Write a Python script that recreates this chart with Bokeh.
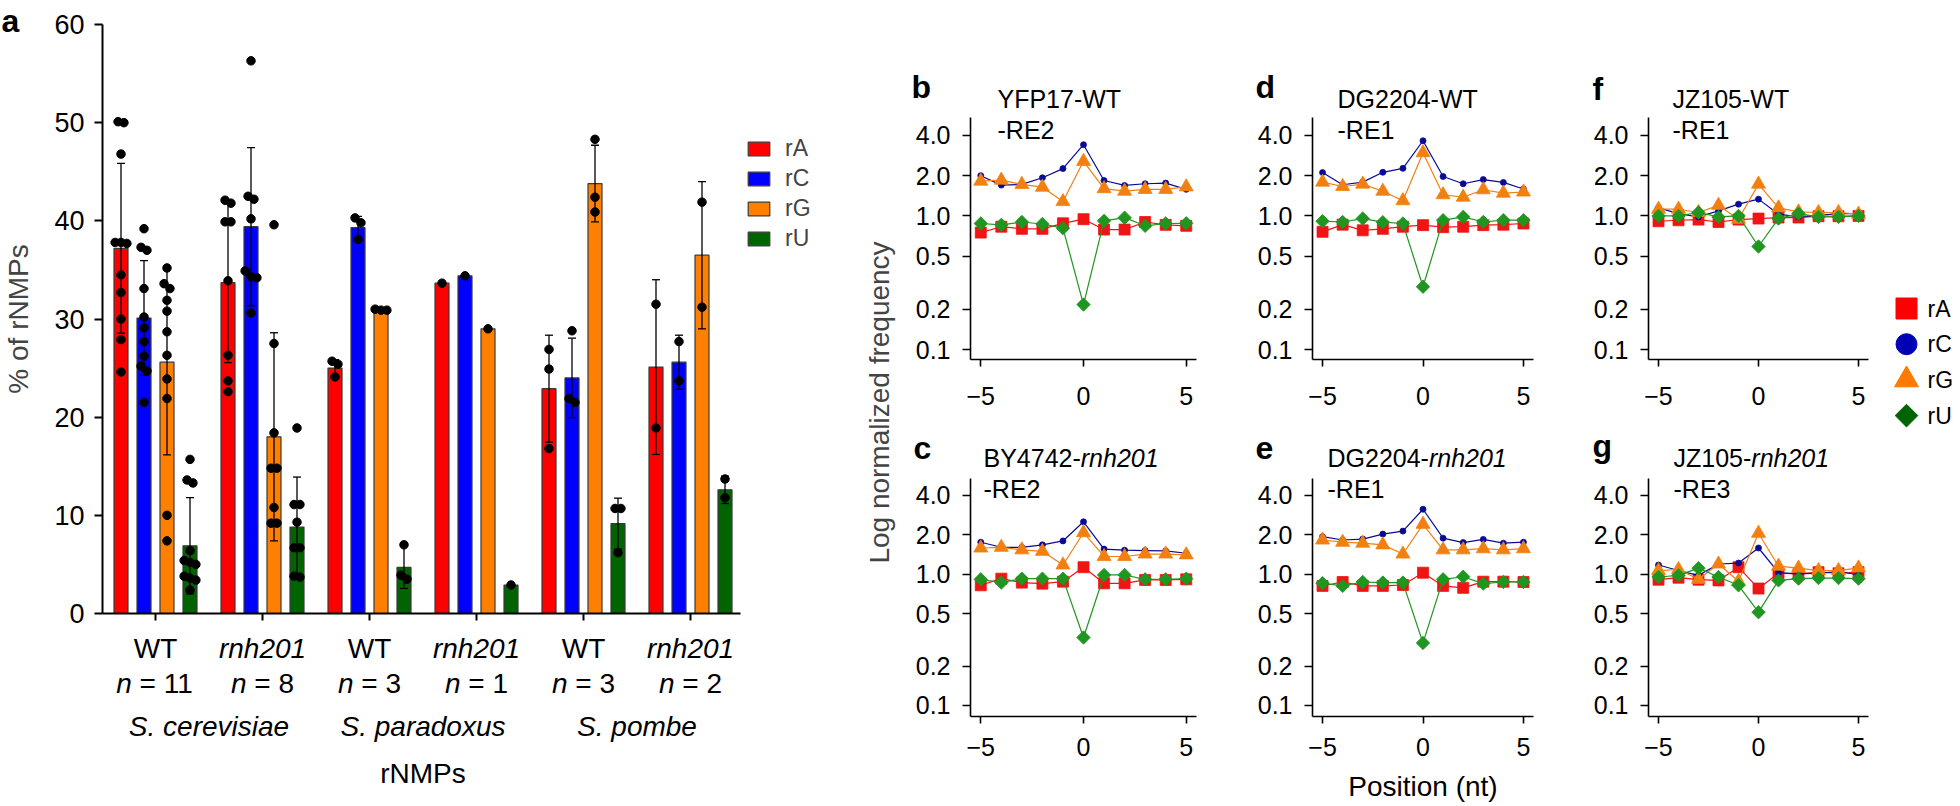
import math
from bokeh.plotting import figure
from bokeh.models import (Range1d, FixedTicker, Whisker, TeeHead, ColumnDataSource,
                          Label, Legend, LegendItem, PrintfTickFormatter)
from bokeh.layouts import row, column
from bokeh.embed import file_html
from bokeh.resources import INLINE
from bokeh.core.properties import value

FONT = "Liberation Sans"

# ---------------- Panel a data ----------------
nucleotides = ["rA", "rC", "rG", "rU"]
strains = ["WT", "rnh201", "WT", "rnh201", "WT", "rnh201"]
n_values = [11, 8, 3, 1, 3, 2]
species = ["S. cerevisiae", "S. paradoxus", "S. pombe"]

mean_rA = [37.2, 33.7, 25.0, 33.65, 22.9, 25.1]
mean_rC = [30.1, 39.4, 39.3, 34.4, 24.0, 25.6]
mean_rG = [25.6, 18.0, 30.9, 29.0, 43.8, 36.5]
mean_rU = [6.9, 8.8, 4.7, 2.9, 9.15, 12.6]

sd_rA = [8.65, 8.15, 0.85, 0.0, 5.45, 8.9]
sd_rC = [5.85, 8.05, 1.15, 0.0, 4.05, 2.75]
sd_rG = [9.45, 10.6, 0.1, 0.0, 3.9, 7.5]
sd_rU = [4.9, 5.1, 2.15, 0.0, 2.6, 1.4]

pts_rA = [[50.1, 50.0, 46.8, 37.8, 37.8, 37.7, 34.5, 32.7, 30.0, 27.9, 24.6],
          [42.1, 41.8, 39.9, 39.9, 33.9, 26.3, 23.7, 22.6],
          [25.7, 25.4, 24.1], [33.65], [26.9, 24.9, 16.8], [31.5, 18.9]]
pts_rC = [[39.2, 37.3, 37.0, 33.1, 30.2, 29.1, 27.7, 26.2, 25.2, 24.7, 21.5],
          [56.3, 42.5, 42.2, 40.2, 34.9, 34.3, 34.2, 30.6],
          [40.3, 39.8, 38.1], [34.4], [28.8, 21.9, 21.5], [27.7, 23.7]]
pts_rG = [[35.2, 33.6, 33.1, 31.9, 30.8, 28.7, 26.3, 23.9, 21.9, 10.0, 7.4],
          [39.6, 27.5, 18.4, 14.8, 14.8, 10.8, 9.2, 9.2],
          [31.0, 30.9, 30.9], [29.0], [48.3, 42.4, 40.9], [41.9, 31.2]]
pts_rU = [[15.7, 13.6, 13.3, 6.4, 5.4, 5.2, 5.0, 3.8, 3.6, 3.4, 2.4],
          [18.9, 11.1, 11.1, 9.3, 6.7, 6.7, 3.7, 3.8],
          [7.0, 3.9, 3.5], [2.9], [10.7, 10.7, 6.2], [13.7, 11.8]]

y_ticks_a = [0, 10, 20, 30, 40, 50, 60]

# ---------------- Panels b-g data ----------------
positions = [-5, -4, -3, -2, -1, 0, 1, 2, 3, 4, 5]
log_ticks = [0.1, 0.2, 0.5, 1.0, 2.0, 4.0]
pos_ticks = [-5, 0, 5]

b_rA = [0.75, 0.83, 0.80, 0.80, 0.88, 0.945, 0.79, 0.79, 0.90, 0.857, 0.843]
b_rC = [2.00, 1.70, 1.72, 1.93, 2.26, 3.41, 1.84, 1.69, 1.74, 1.76, 1.58]
b_rG = [1.82, 1.85, 1.72, 1.64, 1.28, 2.56, 1.60, 1.53, 1.58, 1.58, 1.65]
b_rU = [0.877, 0.857, 0.90, 0.87, 0.81, 0.217, 0.918, 0.97, 0.843, 0.877, 0.88]

c_rA = [0.826, 0.928, 0.866, 0.85, 0.88, 1.135, 0.855, 0.855, 0.907, 0.907, 0.917]
c_rC = [1.76, 1.61, 1.61, 1.68, 1.80, 2.52, 1.56, 1.53, 1.52, 1.51, 1.45]
c_rG = [1.59, 1.61, 1.54, 1.50, 1.18, 2.08, 1.37, 1.37, 1.43, 1.43, 1.41]
c_rU = [0.917, 0.866, 0.928, 0.928, 0.928, 0.33, 0.99, 0.99, 0.917, 0.917, 0.928]

d_rA = [0.76, 0.86, 0.78, 0.80, 0.83, 0.853, 0.824, 0.83, 0.853, 0.86, 0.877]
d_rC = [2.11, 1.71, 1.79, 2.12, 2.27, 3.65, 1.97, 1.74, 1.87, 1.78, 1.59]
d_rG = [1.79, 1.66, 1.73, 1.53, 1.30, 2.97, 1.44, 1.38, 1.57, 1.48, 1.51]
d_rU = [0.913, 0.90, 0.955, 0.898, 0.877, 0.295, 0.929, 0.983, 0.90, 0.929, 0.929]

e_rA = [0.817, 0.875, 0.817, 0.817, 0.83, 1.03, 0.817, 0.79, 0.88, 0.88, 0.875]
e_rC = [1.94, 1.83, 1.86, 2.03, 2.14, 3.14, 1.89, 1.75, 1.85, 1.73, 1.76]
e_rG = [1.83, 1.76, 1.73, 1.68, 1.43, 2.41, 1.54, 1.54, 1.57, 1.54, 1.57]
e_rU = [0.856, 0.817, 0.875, 0.866, 0.866, 0.30, 0.917, 0.96, 0.85, 0.875, 0.875]

f_rA = [0.912, 0.928, 0.938, 0.90, 0.938, 0.955, 0.972, 0.972, 0.994, 0.994, 1.0]
f_rC = [1.149, 1.041, 0.983, 1.09, 1.224, 1.335, 1.03, 0.983, 1.01, 1.04, 1.04]
f_rG = [1.122, 1.122, 1.06, 1.20, 0.944, 1.73, 1.149, 1.072, 1.06, 1.06, 1.03]
f_rU = [1.0, 1.0, 1.06, 0.983, 1.0, 0.59, 0.955, 1.04, 0.983, 0.983, 1.0]

g_rA = [0.912, 0.944, 0.912, 0.90, 1.135, 0.78, 1.02, 1.01, 1.04, 1.02, 1.04]
g_rC = [1.18, 1.07, 0.983, 1.20, 1.22, 1.59, 1.03, 1.01, 1.02, 1.05, 0.994]
g_rG = [1.07, 1.09, 0.917, 1.20, 0.886, 2.06, 1.155, 1.116, 1.07, 1.07, 1.12]
g_rU = [0.955, 0.983, 1.116, 0.955, 0.826, 0.515, 0.90, 0.928, 0.938, 0.938, 0.928]

# ---------------- styles ----------------
BAR_COL = {"rA": "#ff0000", "rC": "#0000ff", "rG": "#ff8000", "rU": "#006400"}
LINE_COL = {"rA": "#f01414", "rC": "#0a0a96", "rG": "#f28010", "rU": "#1f961f"}
KEY_COL = {"rA": "#ff0000", "rC": "#0000b4", "rG": "#ff7a00", "rU": "#006400"}
MARK = {"rA": dict(marker="square", size=11, angle=0.0),
        "rC": dict(marker="circle", size=6, angle=0.0),
        "rG": dict(marker="triangle", size=14, angle=0.0),
        "rU": dict(marker="square", size=9.5, angle=math.pi / 4)}
KEY_MARK = {"rA": dict(marker="square", size=21, angle=0.0),
            "rC": dict(marker="circle", size=21, angle=0.0),
            "rG": dict(marker="triangle", size=24, angle=0.0),
            "rU": dict(marker="square", size=16, angle=math.pi / 4)}

ADV = {'B': 667, 'Y': 667, 'D': 722, 'G': 778, 'J': 500, 'Z': 611, '-': 333,
       ' ': 278, '=': 584, 'n': 556}


def tw(s, fs):
    return sum(ADV.get(ch, 556) for ch in s) * fs / 1000.0


def base_fig(**kw):
    p = figure(toolbar_location=None, output_backend="svg", **kw)
    p.outline_line_color = None
    p.grid.visible = False
    return p


def lab(**kw):
    kw.setdefault("text_baseline", "alphabetic")
    kw.setdefault("text_font", FONT)
    kw.setdefault("text_color", "black")
    return Label(**kw)


PAGE_H = 804
ROW_SPLIT = 429

# ================= Panel a (frame covers the whole figure) =================
A_FIG_X, A_FIG_Y, A_W, A_H = 0, 0, 860, PAGE_H
A_FL, A_FR, A_FT, A_FB = 102, 740, 24, 613     # page position of the axes
A_PXU = 107.0                                  # px per group
A_X0 = -(155 - A_FL) / A_PXU
A_X1 = A_X0 + (A_FR - A_FL) / A_PXU
A_PYU = (A_FB - A_FT) / 60.0
BAR_PITCH = 23 / A_PXU
BAR_W = 14 / A_PXU


def ax_x(px):
    return A_X0 + (px - A_FL) / A_PXU


def ax_y(py):
    return (A_FB - py) / A_PYU


pa = base_fig(width=A_W, height=A_H,
              x_range=Range1d(ax_x(A_FIG_X), ax_x(A_FIG_X + A_W)),
              y_range=Range1d(ax_y(A_FIG_Y + A_H), ax_y(A_FIG_Y)),
              min_border=0)

means = {"rA": mean_rA, "rC": mean_rC, "rG": mean_rG, "rU": mean_rU}
sds = {"rA": sd_rA, "rC": sd_rC, "rG": sd_rG, "rU": sd_rU}
pts = {"rA": pts_rA, "rC": pts_rC, "rG": pts_rG, "rU": pts_rU}
groups = list(range(len(strains)))


def swarm(vals, thr=0.9, step=0.055):
    order = sorted(range(len(vals)), key=lambda i: -vals[i])
    offs = [0.0] * len(vals)
    clusters = []
    for i in order:
        if clusters and abs(vals[clusters[-1][-1]] - vals[i]) < thr:
            clusters[-1].append(i)
        else:
            clusters.append([i])
    for cl in clusters:
        m = len(cl)
        for j, i in enumerate(cl):
            offs[i] = (j - (m - 1) / 2.0) * step
    return offs


bar_renderers = {}
for k, nuc in enumerate(nucleotides):
    xs = [g + (k - 1.5) * BAR_PITCH for g in groups]
    src = ColumnDataSource(dict(x=xs, top=means[nuc]))
    bar_renderers[nuc] = pa.vbar(x="x", top="top", bottom=0, width=BAR_W, source=src,
                                 fill_color=BAR_COL[nuc], line_color="#3a3a3a", line_width=1.2)
    wx, wu, wl = [], [], []
    for g in groups:
        if n_values[g] > 1:
            wx.append(xs[g])
            wu.append(means[nuc][g] + sds[nuc][g])
            wl.append(means[nuc][g] - sds[nuc][g])
    wsrc = ColumnDataSource(dict(base=wx, upper=wu, lower=wl))
    wh = Whisker(source=wsrc, base="base", upper="upper", lower="lower", dimension="height",
                 line_color="black", line_width=1.3,
                 upper_head=TeeHead(size=8, line_width=1.3, line_color="black"),
                 lower_head=TeeHead(size=8, line_width=1.3, line_color="black"))
    wh.level = "annotation"
    pa.add_layout(wh)
    dx, dy = [], []
    for g in groups:
        offs = swarm(pts[nuc][g])
        for v, o in zip(pts[nuc][g], offs):
            dx.append(xs[g] + o)
            dy.append(v)
    pa.scatter(x=dx, y=dy, size=8.5, color="black", level="overlay")

pa.yaxis.fixed_location = A_X0
pa.yaxis.bounds = (0, 60)
pa.yaxis.ticker = FixedTicker(ticks=y_ticks_a)
pa.yaxis.major_tick_out = 8
pa.yaxis.major_label_standoff = 10
pa.yaxis.major_label_text_font_size = "27px"
pa.yaxis.axis_label = "% of rNMPs"
pa.yaxis.axis_label_standoff = 17
pa.yaxis.axis_label_text_font_size = "28px"
pa.yaxis.axis_label_text_font_style = "normal"
pa.yaxis.axis_label_text_font = FONT
pa.xaxis.fixed_location = 0
pa.xaxis.bounds = (A_X0, A_X1)
pa.xaxis.ticker = FixedTicker(ticks=groups)
pa.xaxis.major_label_overrides = {g: "" for g in groups}
pa.xaxis.major_tick_out = 7
for ax in (pa.xaxis, pa.yaxis):
    ax.major_tick_in = 0
    ax.minor_tick_line_color = None
    ax.axis_line_width = 2
    ax.major_tick_line_width = 2
    ax.axis_line_color = "black"
    ax.major_tick_line_color = "black"
    ax.major_label_text_font = FONT
    ax.major_label_text_color = "black"

FS_A = 28
for g in groups:
    pa.add_layout(lab(x=g, y=ax_y(648), text=strains[g], text_align="center",
                      text_font_size=f"{FS_A}px",
                      text_font_style="italic" if strains[g] != "WT" else "normal"))
    rest = f"= {n_values[g]}"
    wtot = tw("n " + rest, FS_A)
    pa.add_layout(lab(x=g, y=ax_y(683), x_offset=-wtot / 2, text="n", text_align="left",
                      text_font_size=f"{FS_A}px", text_font_style="italic"))
    pa.add_layout(lab(x=g, y=ax_y(683), x_offset=-wtot / 2 + tw("n ", FS_A), text=rest,
                      text_align="left", text_font_size=f"{FS_A}px"))
for i, sp in enumerate(species):
    pa.add_layout(lab(x=(groups[2 * i] + groups[2 * i + 1]) / 2, y=ax_y(726), text=sp,
                      text_align="center", text_font_size=f"{FS_A}px", text_font_style="italic"))
pa.add_layout(lab(x=sum(groups) / len(groups), y=ax_y(773), text="rNMPs", text_align="center",
                  text_font_size=f"{FS_A}px"))
pa.add_layout(lab(x=ax_x(1), y=ax_y(20), text="a", text_align="left", text_font_size="32px",
                  text_font_style="bold"))

legA = Legend(items=[LegendItem(label=nuc, renderers=[bar_renderers[nuc]]) for nuc in nucleotides],
              location=(745 - A_FIG_X, (A_FIG_Y + A_H) - 252), orientation="vertical",
              glyph_width=27, glyph_height=17, label_height=17, label_standoff=13, spacing=3,
              padding=0, margin=0, border_line_color=None, background_fill_alpha=0,
              label_text_font_size="23px", label_text_font=FONT)
pa.add_layout(legA)

# ================= Shared y label column =================
pl = base_fig(width=45, height=PAGE_H, x_range=Range1d(0, 1), y_range=Range1d(0, 1),
              x_axis_type=None, min_border_left=32, min_border_right=0,
              min_border_top=0, min_border_bottom=0)
pl.yaxis.ticker = FixedTicker(ticks=[])
pl.yaxis.axis_line_color = None
pl.yaxis.major_tick_line_color = None
pl.yaxis.minor_tick_line_color = None
pl.yaxis.major_tick_out = 0
pl.yaxis.major_label_standoff = 0
pl.yaxis.axis_label = "Log normalized frequency"
pl.yaxis.axis_label_standoff = 0
pl.yaxis.axis_label_text_font_size = "28px"
pl.yaxis.axis_label_text_font_style = "normal"
pl.yaxis.axis_label_text_font = FONT


# ================= Panels b-g (frame covers the whole figure) =================
def line_panel(fig_x, fig_y, w, h, fl, fr, ft, fb, ylo, yhi, series, t1, t2, letter,
               letter_xy, title_x, bases, x_standoff, xlabel=False):
    dpx = (fb - ft) / math.log2(yhi / ylo)

    def px2x(px):
        return -5.5 + (px - fl) / (fr - fl) * 11.0

    def py2y(py):
        return ylo * 2 ** ((fb - py) / dpx)

    p = base_fig(width=w, height=h, x_range=Range1d(px2x(fig_x), px2x(fig_x + w)),
                 y_range=Range1d(py2y(fig_y + h), py2y(fig_y)), y_axis_type="log",
                 min_border=0)

    for nuc in nucleotides:
        vals = series[nuc]
        p.line(positions, vals, line_color=LINE_COL[nuc], line_width=1.2)
        m = MARK[nuc]
        p.scatter(positions, vals, marker=m["marker"], size=m["size"], angle=m["angle"],
                  fill_color=LINE_COL[nuc], line_color=LINE_COL[nuc], line_width=0.8)

    p.yaxis.fixed_location = -5.5
    p.yaxis.bounds = (ylo, yhi)
    p.xaxis.fixed_location = ylo
    p.xaxis.bounds = (-5.5, 5.5)
    p.yaxis.ticker = FixedTicker(ticks=log_ticks)
    p.yaxis.formatter = PrintfTickFormatter(format="%.1f")
    p.xaxis.ticker = FixedTicker(ticks=pos_ticks)
    p.xaxis.major_label_overrides = {-5: "\u22125", 0: "0", 5: "5"}
    p.yaxis.major_tick_out = 8
    p.xaxis.major_tick_out = 7
    p.yaxis.major_label_standoff = 12
    p.xaxis.major_label_standoff = x_standoff
    for ax in (p.xaxis, p.yaxis):
        ax.major_tick_in = 0
        ax.minor_tick_line_color = None
        ax.axis_line_width = 1.6
        ax.major_tick_line_width = 1.6
        ax.axis_line_color = "black"
        ax.major_tick_line_color = "black"
        ax.major_label_text_font_size = "25px"
        ax.major_label_text_font = FONT
        ax.major_label_text_color = "black"

    FS = 25
    x0 = px2x(title_x)
    off = 0.0
    for txt, style in t1:
        p.add_layout(lab(x=x0, y=py2y(bases[0]), x_offset=off, text=txt, text_align="left",
                         text_font_size=f"{FS}px", text_font_style=style))
        off += tw(txt, FS)
    p.add_layout(lab(x=x0, y=py2y(bases[1]), text=t2, text_align="left",
                     text_font_size=f"{FS}px"))
    p.add_layout(lab(x=px2x(letter_xy[0]), y=py2y(letter_xy[1]), text=letter, text_align="left",
                     text_font_size="32px", text_font_style="bold"))
    if xlabel:
        p.add_layout(lab(x=0, y=py2y(786), text="Position (nt)", text_align="center",
                         text_font_size="28px"))
    return p


TOP = dict(fig_y=0, h=ROW_SPLIT, ft=117, fb=359, ylo=0.0842, yhi=5.45, bases=(98, 129),
           x_standoff=20)
BOT = dict(fig_y=ROW_SPLIT, h=PAGE_H - ROW_SPLIT, ft=478, fb=716, ylo=0.0824, yhi=5.39,
           bases=(457, 488), x_standoff=14)

pb = line_panel(fig_x=905, w=310, fl=970, fr=1196,
                series={"rA": b_rA, "rC": b_rC, "rG": b_rG, "rU": b_rU},
                t1=[("YFP17-WT", "normal")], t2="-RE2", letter="b", letter_xy=(911, 86),
                title_x=997, **TOP)
pc = line_panel(fig_x=905, w=310, fl=970, fr=1196,
                series={"rA": c_rA, "rC": c_rC, "rG": c_rG, "rU": c_rU},
                t1=[("BY4742-", "normal"), ("rnh201", "italic")], t2="-RE2", letter="c",
                letter_xy=(913, 447), title_x=983, **BOT)
pd_ = line_panel(fig_x=1215, w=330, fl=1312, fr=1533,
                 series={"rA": d_rA, "rC": d_rC, "rG": d_rG, "rU": d_rU},
                 t1=[("DG2204-WT", "normal")], t2="-RE1", letter="d", letter_xy=(1255, 86),
                 title_x=1337, **TOP)
pe = line_panel(fig_x=1215, w=330, fl=1312, fr=1533,
                series={"rA": e_rA, "rC": e_rC, "rG": e_rG, "rU": e_rU},
                t1=[("DG2204-", "normal"), ("rnh201", "italic")], t2="-RE1", letter="e",
                letter_xy=(1255, 447), title_x=1327, xlabel=True, **BOT)
pf = line_panel(fig_x=1545, w=345, fl=1648, fr=1868,
                series={"rA": f_rA, "rC": f_rC, "rG": f_rG, "rU": f_rU},
                t1=[("JZ105-WT", "normal")], t2="-RE1", letter="f", letter_xy=(1592, 88),
                title_x=1672, **TOP)
pg = line_panel(fig_x=1545, w=345, fl=1648, fr=1868,
                series={"rA": g_rA, "rC": g_rC, "rG": g_rG, "rU": g_rU},
                t1=[("JZ105-", "normal"), ("rnh201", "italic")], t2="-RE3", letter="g",
                letter_xy=(1592, 445), title_x=1673, **BOT)

# ================= Key (right legend), full-height frame =================
H_X, H_W = 1890, 68
KEY_X, KEY_Y0, KEY_PITCH = 1906, 308, 35.7
key_rows = list(range(len(nucleotides)))
ph = base_fig(width=H_W, height=PAGE_H,
              x_range=Range1d(-(KEY_X - H_X) / H_W, 1 - (KEY_X - H_X) / H_W),
              y_range=Range1d(-(PAGE_H - KEY_Y0) / KEY_PITCH, KEY_Y0 / KEY_PITCH),
              x_axis_type=None, y_axis_type=None, min_border=0)
for i, nuc in zip(key_rows, nucleotides):
    m = KEY_MARK[nuc]
    ph.scatter(x=[0], y=[-i], marker=m["marker"], size=m["size"], angle=m["angle"],
               fill_color=KEY_COL[nuc], line_color=KEY_COL[nuc])
ph.text(x=[0] * len(nucleotides), y=[-i for i in key_rows], text=nucleotides, x_offset=21,
        text_baseline="middle", text_align="left", text_font=value(FONT),
        text_font_size="23px", text_color="black")

layout = row(pa, pl, column(pb, pc, spacing=0), column(pd_, pe, spacing=0),
             column(pf, pg, spacing=0), ph, spacing=0)

open("out.html", "w").write(file_html(layout, INLINE))
